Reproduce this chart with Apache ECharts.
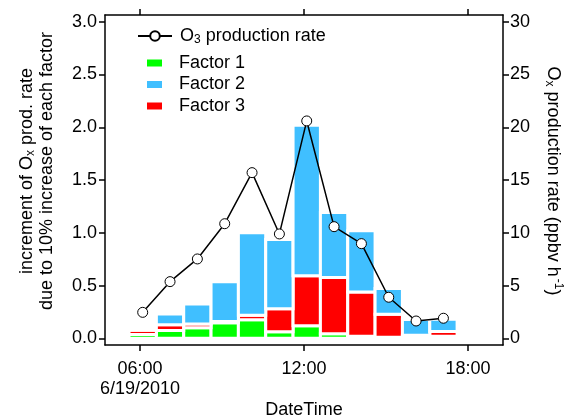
<!DOCTYPE html>
<html>
<head>
<meta charset="utf-8">
<script src="https://cdn.jsdelivr.net/npm/echarts@6/dist/echarts.min.js"></script>
<style>
  html, body { margin: 0; padding: 0; background: #fff; }
  #chart { width: 574px; height: 418px; }
</style>
</head>
<body>
<div id="chart"></div>
<script>
// Hourly sensitivity of the Ox production rate, 19 June 2010
const hours = [6, 7, 8, 9, 10, 11, 12, 13, 14, 15, 16, 17];
const factor1 = [0.036, 0.075, 0.100, 0.147, 0.175, 0.062, 0.120, 0.043, 0.020, 0.010, 0.015, 0.019];
const factor3 = [0.040, 0.053, 0.036, 0.012, 0.044, 0.219, 0.472, 0.533, 0.419, 0.219, 0.015, 0.045];
const factor2 = [0.000, 0.102, 0.189, 0.377, 0.781, 0.655, 1.428, 0.616, 0.580, 0.243, 0.148, 0.117];
const o3Rate = [2.46, 5.37, 7.52, 10.86, 15.70, 9.89, 20.6, 10.58, 8.97, 3.89, 1.64, 1.90];
const leftTicks = [0, 0.5, 1.0, 1.5, 2.0, 2.5, 3.0];
const rightTicks = [0, 5, 10, 15, 20, 25, 30];
const timeTicks = [6, 12, 18];
const dateLabel = '6/19/2010';

// hourly averages are stamped a few minutes past the hour; each bar spans one hour
const stampOffset = 0.1;
const slotHalf = 0.5;
const FONT = '"Liberation Sans", Arial, Helvetica, sans-serif';
const BLACK = '#000';
const COLORS = { f1: '#00ff00', f2: '#40bfff', f3: '#ff0000' };

const pts = (vals) => hours.map((h, i) => [h + stampOffset, vals[i]]);
const hhmm = (v) => (v < 10 ? '0' : '') + v + ':00';

// stacking order from the baseline: Factor 1, Factor 3, Factor 2
const layers = [
  { name: 'Factor 1', vals: factor1, color: COLORS.f1 },
  { name: 'Factor 3', vals: factor3, color: COLORS.f3 },
  { name: 'Factor 2', vals: factor2, color: COLORS.f2 }
];
const running = hours.map(() => 0);
const stackedData = layers.map((layer) => hours.map((h, i) => {
  const lo = running[i];
  const hi = lo + layer.vals[i];
  running[i] = hi;
  return [h + stampOffset, lo, hi];
}));

function segment(color) {
  return function (params, api) {
    const x = api.value(0);
    const p0 = api.coord([x - slotHalf, api.value(1)]);
    const p1 = api.coord([x + slotHalf, api.value(2)]);
    return {
      type: 'rect',
      shape: { x: p0[0], y: p1[1], width: p1[0] - p0[0], height: p0[1] - p1[1] },
      style: { fill: color, stroke: '#fff', lineWidth: 3 }
    };
  };
}

const axisLine = { show: true, onZero: false, lineStyle: { color: BLACK, width: 1.5 } };
const tickStyle = { color: BLACK, width: 1.5 };
const labelBase = { color: BLACK, fontSize: 18, fontFamily: FONT };

const chart = echarts.init(document.getElementById('chart'), null, { renderer: 'canvas' });

chart.setOption({
  animation: false,
  backgroundColor: '#fff',
  textStyle: { fontFamily: FONT },
  grid: { left: 105, right: 71, top: 15, bottom: 73, containLabel: false, outerBoundsMode: 'none' },
  xAxis: [
    {
      type: 'value', position: 'bottom', min: 4.721, max: 19.279,
      axisLine: axisLine,
      axisTick: { show: true, customValues: timeTicks, length: 6, lineStyle: tickStyle },
      axisLabel: Object.assign({}, labelBase, {
        customValues: timeTicks, margin: 14, lineHeight: 20,
        formatter: (v) => v === timeTicks[0] ? hhmm(v) + '\n' + dateLabel : hhmm(v)
      }),
      splitLine: { show: false },
      name: 'DateTime', nameLocation: 'middle', nameGap: 56, nameMoveOverlap: false,
      nameTextStyle: Object.assign({}, labelBase)
    },
    {
      type: 'value', position: 'top', min: 4.721, max: 19.279,
      axisLine: axisLine,
      axisTick: { show: true, customValues: timeTicks, length: 6, lineStyle: tickStyle },
      axisLabel: { show: false },
      splitLine: { show: false }
    }
  ],
  yAxis: [
    {
      type: 'value', position: 'left', min: -0.0635, max: 3.064,
      axisLine: axisLine,
      axisTick: { show: true, customValues: leftTicks, length: 6, lineStyle: tickStyle },
      axisLabel: Object.assign({}, labelBase, {
        customValues: leftTicks, margin: 8, formatter: (v) => v.toFixed(1)
      }),
      splitLine: { show: false }
    },
    {
      type: 'value', position: 'right', min: -0.635, max: 30.64,
      axisLine: axisLine,
      axisTick: { show: true, customValues: rightTicks, length: 6, lineStyle: tickStyle },
      axisLabel: Object.assign({}, labelBase, { customValues: rightTicks, margin: 7 }),
      splitLine: { show: false }
    }
  ],
  legend: [
    {
      data: ['O3 production rate'],
      left: 137, top: 27, padding: 0,
      itemWidth: 34, itemHeight: 12,
      formatter: () => '{t|O}{s|3}{t| production rate}',
      textStyle: {
        color: BLACK, fontSize: 18, fontFamily: FONT, padding: [0, 0, 0, 3],
        rich: {
          t: { fontSize: 18, fontFamily: FONT, color: BLACK },
          s: { fontSize: 12, fontFamily: FONT, color: BLACK, padding: [8, 0, 0, 0] }
        }
      }
    },
    {
      data: [
        { name: 'Factor 1', icon: 'rect' },
        { name: 'Factor 2', icon: 'rect' },
        { name: 'Factor 3', icon: 'rect' }
      ],
      orient: 'vertical', left: 147, top: 53, padding: 0,
      itemWidth: 15, itemHeight: 7, itemGap: 1.5,
      itemStyle: { borderWidth: 0 },
      textStyle: { color: BLACK, fontSize: 18, fontFamily: FONT, lineHeight: 20, padding: [0, 0, 0, 12] }
    }
  ],
  graphic: [
    {
      type: 'text', x: 37, y: 171, rotation: Math.PI / 2,
      style: {
        text: '{a|increment of O}{b|x}{a| prod. rate}\n{a|due to 10% increase of each factor}',
        align: 'center', verticalAlign: 'middle', fill: BLACK,
        rich: {
          a: { fontSize: 18, fontFamily: FONT, lineHeight: 20, fill: BLACK },
          b: { fontSize: 12, fontFamily: FONT, lineHeight: 20, fill: BLACK, padding: [8, 0, 0, 0] }
        }
      }
    },
    {
      type: 'text', x: 553, y: 181, rotation: -Math.PI / 2,
      style: {
        text: '{a|O}{b|x}{a| production rate (ppbv h}{c|-1}{a|)}',
        align: 'center', verticalAlign: 'middle', fill: BLACK,
        rich: {
          a: { fontSize: 18, fontFamily: FONT, lineHeight: 20, fill: BLACK },
          b: { fontSize: 12, fontFamily: FONT, lineHeight: 20, fill: BLACK, padding: [8, 0, 0, 0] },
          c: { fontSize: 12, fontFamily: FONT, lineHeight: 20, fill: BLACK, padding: [0, 0, 10, 2] }
        }
      }
    }
  ],
  series: layers.map((layer, k) => ({
    name: layer.name, type: 'custom', xAxisIndex: 0, yAxisIndex: 0,
    itemStyle: { color: layer.color },
    encode: { x: 0, y: [1, 2] },
    renderItem: segment(layer.color),
    data: stackedData[k]
  })).concat([
    {
      name: 'O3 production rate', type: 'line', xAxisIndex: 0, yAxisIndex: 1, z: 5,
      data: pts(o3Rate),
      symbol: 'circle', symbolSize: 10,
      itemStyle: { color: '#fff', borderColor: BLACK, borderWidth: 1 },
      lineStyle: { color: BLACK, width: 1.5 }
    }
  ])
});
</script>
</body>
</html>
